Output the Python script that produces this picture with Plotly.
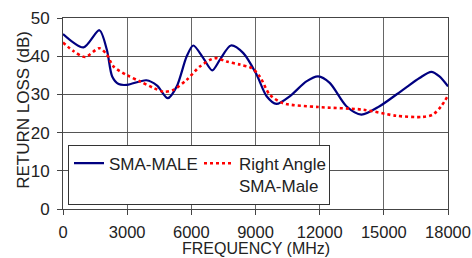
import plotly.graph_objects as go

# SMA-MALE (solid navy)
blue_x = [0, 960, 1700, 2050, 2300, 2600, 3000, 3900, 4400, 4900, 5320, 5780, 6090, 6560,
          6980, 7340, 7850, 8430, 9050, 9520, 9980, 10600, 11380, 11930, 12470, 13250,
          13950, 14800, 15890, 16670, 17220, 17600, 18000]
blue_y = [45.8, 42.3, 46.8, 41.7, 34.7, 32.7, 32.5, 33.7, 32.3, 29.0, 32.1, 39.9, 42.8, 39.5,
          36.3, 39.1, 42.8, 40.8, 35.2, 29.5, 27.5, 29.5, 33.4, 34.7, 33.0, 26.9,
          24.7, 26.9, 31.2, 34.3, 35.9, 34.7, 32.1]

# Right Angle SMA-Male (red dotted)
red_x = [0, 500, 1040, 1700, 2050, 2360, 3000, 3600, 4230, 4700, 5160, 5780, 6400, 7100,
         7650, 8270, 8820, 9200, 9670, 10290, 11930, 14030, 15580, 16820, 17290, 17680, 18000]
red_y = [43.6, 41.3, 39.8, 42.1, 40.4, 37.3, 35.0, 33.4, 31.7, 30.7, 31.2, 33.8, 37.3, 39.5,
         38.6, 37.8, 36.9, 34.7, 29.9, 27.7, 26.7, 26.0, 24.4, 24.1, 24.7, 26.9, 29.7]

x_ticks = [0, 3000, 6000, 9000, 12000, 15000, 18000]
y_ticks = [0, 10, 20, 30, 40, 50]

FONT = "Liberation Sans, Arial, sans-serif"

fig = go.Figure()
fig.add_trace(go.Scatter(x=blue_x, y=blue_y, mode="lines", name="SMA-MALE",
                         line=dict(color="#000080", width=2.2, shape="spline", smoothing=0.8)))
fig.add_trace(go.Scatter(x=red_x, y=red_y, mode="lines", name="Right Angle<br>SMA-Male",
                         line=dict(color="#ff0000", width=2.6, shape="spline", smoothing=0.8,
                                   dash="3px,3px")))

fig.update_layout(
    width=472, height=258,
    margin=dict(l=63, r=24, t=18, b=49, autoexpand=False),
    paper_bgcolor="white", plot_bgcolor="white",
    font=dict(family=FONT, size=17, color="#222"),
    showlegend=True,
    legend=dict(orientation="h", x=0.013, y=0.337, xanchor="left", yanchor="top",
                bgcolor="white", bordercolor="#333", borderwidth=1,
                font=dict(family=FONT, size=17, color="#222"),
                valign="top", itemwidth=30, tracegroupgap=0, entrywidth=85),
    xaxis=dict(range=[0, 18000], tickvals=x_ticks, ticktext=[str(v) for v in x_ticks],
               automargin=False,
               showgrid=True, gridcolor="#666", gridwidth=1,
               showline=True, linecolor="#444", linewidth=1, mirror=True,
               ticks="outside", ticklen=5, tickcolor="#444",
               tickfont=dict(size=16.5), ticklabelstandoff=3,
               zeroline=False),
    yaxis=dict(range=[0, 50], tickvals=y_ticks, ticktext=[str(v) for v in y_ticks],
               automargin=False,
               showgrid=True, gridcolor="#555", gridwidth=1,
               showline=True, linecolor="#444", linewidth=1, mirror=True,
               ticks="outside", ticklen=5, tickcolor="#444",
               tickfont=dict(size=17), ticklabelstandoff=4,
               zeroline=False),
    annotations=[
        dict(text="RETURN LOSS (dB)", textangle=-90, showarrow=False,
             xref="paper", yref="paper", x=-0.101, y=0.52,
             xanchor="center", yanchor="middle",
             font=dict(family=FONT, size=17, color="#222")),
        dict(text="FREQUENCY (MHz)", showarrow=False,
             xref="paper", yref="paper", x=0.5, y=-0.209,
             xanchor="center", yanchor="middle",
             font=dict(family=FONT, size=16, color="#222")),
    ],
)

fig.write_html("out.html", config={"displayModeBar": False},
               post_script="document.body.style.margin='0';")
